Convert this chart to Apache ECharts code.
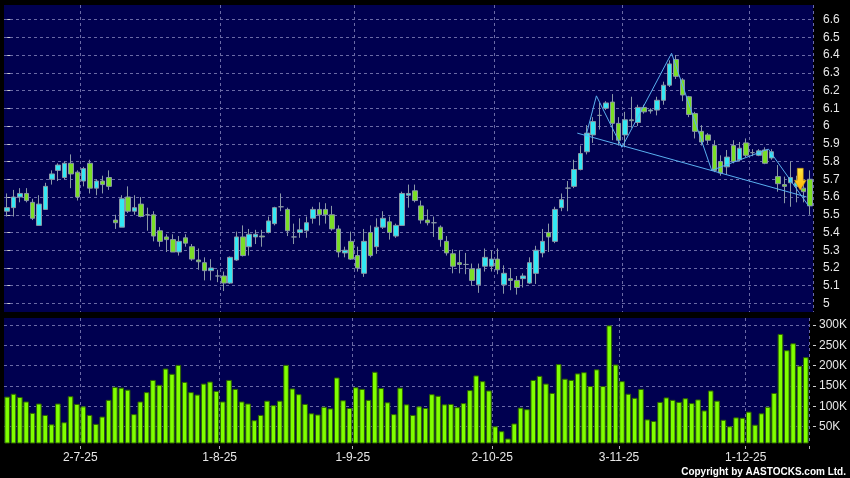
<!DOCTYPE html>
<html>
<head>
<meta charset="utf-8">
<script src="https://cdn.jsdelivr.net/npm/echarts@6/dist/echarts.min.js"></script>
<style>
html,body{margin:0;padding:0;background:#000;}
#chart{width:850px;height:478px;}
</style>
</head>
<body>
<div id="chart"></div>
<script>
const dates = [
'13-6-25','16-6-25','17-6-25','18-6-25','19-6-25','20-6-25','23-6-25','24-6-25','25-6-25','26-6-25','27-6-25','30-6-25',
'2-7-25','3-7-25','4-7-25','7-7-25','8-7-25','9-7-25','10-7-25','11-7-25','14-7-25','15-7-25','16-7-25','17-7-25','18-7-25','21-7-25','22-7-25','23-7-25','24-7-25','25-7-25','28-7-25','29-7-25','30-7-25','31-7-25',
'1-8-25','4-8-25','5-8-25','6-8-25','7-8-25','8-8-25','11-8-25','12-8-25','13-8-25','14-8-25','15-8-25','18-8-25','19-8-25','20-8-25','21-8-25','22-8-25','25-8-25','26-8-25','27-8-25','28-8-25','29-8-25',
'1-9-25','2-9-25','3-9-25','4-9-25','5-9-25','8-9-25','9-9-25','10-9-25','11-9-25','12-9-25','15-9-25','16-9-25','17-9-25','18-9-25','19-9-25','22-9-25','23-9-25','24-9-25','25-9-25','26-9-25','29-9-25','30-9-25',
'2-10-25','3-10-25','6-10-25','8-10-25','9-10-25','10-10-25','13-10-25','14-10-25','15-10-25','16-10-25','17-10-25','20-10-25','21-10-25','22-10-25','23-10-25','24-10-25','27-10-25','28-10-25','30-10-25','31-10-25',
'3-11-25','4-11-25','5-11-25','6-11-25','7-11-25','10-11-25','11-11-25','12-11-25','13-11-25','14-11-25','17-11-25','18-11-25','19-11-25','20-11-25','21-11-25','24-11-25','25-11-25','26-11-25','27-11-25','28-11-25',
'1-12-25','2-12-25','3-12-25','4-12-25','5-12-25','8-12-25','9-12-25','10-12-25','11-12-25','12-12-25'
];
const monthLabels = ['2-7-25','1-8-25','1-9-25','2-10-25','3-11-25','1-12-25'];
const priceTicks = [5,5.1,5.2,5.3,5.4,5.5,5.6,5.7,5.8,5.9,6,6.1,6.2,6.3,6.4,6.5,6.6];
const volumeTicks = [50000,100000,150000,200000,250000,300000];

const open = [5.52,5.54,5.60,5.62,5.57,5.44,5.53,5.70,5.75,5.71,5.79,5.74,5.69,5.79,5.65,5.69,5.71,5.47,5.43,5.60,
5.52,5.56,5.50,5.50,5.41,5.375,5.36,5.29,5.37,5.32,5.245,5.23,5.185,5.155,5.155,5.115,5.245,5.375,5.32,5.375,
5.38,5.40,5.45,5.545,5.53,5.375,5.40,5.41,5.48,5.53,5.53,5.50,5.42,5.285,5.35,5.27,5.17,5.40,5.32,5.43,
5.46,5.38,5.44,5.61,5.635,5.55,5.47,5.455,5.43,5.35,5.28,5.23,5.22,5.195,5.105,5.21,5.21,5.25,5.105,5.14,
5.13,5.14,5.115,5.17,5.285,5.40,5.35,5.54,5.65,5.66,5.755,5.855,5.95,6.06,6.10,6.135,6.015,5.95,6.035,6.02,
6.105,6.085,6.09,6.145,6.23,6.375,6.26,6.165,6.07,5.97,5.95,5.89,5.80,5.77,5.89,5.81,5.905,5.85,5.835,5.865,
5.82,5.715,5.67,5.68,5.66,5.65,5.70];
const close = [5.54,5.60,5.62,5.58,5.48,5.56,5.66,5.73,5.78,5.79,5.73,5.60,5.76,5.65,5.69,5.67,5.66,5.455,5.59,5.52,
5.54,5.49,5.50,5.38,5.35,5.36,5.29,5.35,5.34,5.25,5.235,5.185,5.20,5.155,5.115,5.26,5.375,5.27,5.39,5.39,
5.375,5.465,5.54,5.545,5.41,5.375,5.415,5.455,5.53,5.50,5.50,5.42,5.29,5.30,5.25,5.20,5.35,5.27,5.43,5.48,
5.40,5.44,5.62,5.62,5.58,5.47,5.455,5.455,5.36,5.285,5.21,5.22,5.22,5.13,5.195,5.26,5.25,5.19,5.17,5.13,
5.09,5.155,5.23,5.30,5.35,5.375,5.53,5.585,5.65,5.755,5.845,5.96,6.025,6.06,6.13,6.015,5.92,6.035,6.03,6.105,
6.08,6.09,6.145,6.23,6.35,6.28,6.175,6.065,5.97,5.91,5.92,5.75,5.735,5.825,5.80,5.875,5.835,5.85,5.86,5.79,
5.855,5.675,5.66,5.71,5.68,5.63,5.55];
const low = [5.49,5.49,5.57,5.57,5.47,5.44,5.53,5.67,5.69,5.70,5.65,5.58,5.66,5.62,5.61,5.62,5.64,5.42,5.43,5.51,
5.50,5.485,5.41,5.35,5.32,5.29,5.29,5.27,5.32,5.24,5.19,5.13,5.13,5.12,5.07,5.11,5.24,5.265,5.27,5.335,
5.32,5.395,5.44,5.52,5.38,5.335,5.37,5.37,5.45,5.44,5.45,5.41,5.26,5.26,5.245,5.18,5.15,5.26,5.28,5.42,
5.36,5.37,5.44,5.54,5.57,5.45,5.44,5.375,5.32,5.27,5.17,5.17,5.165,5.10,5.06,5.18,5.18,5.165,5.055,5.075,
5.05,5.09,5.11,5.11,5.26,5.29,5.34,5.52,5.52,5.65,5.75,5.84,5.905,5.98,6.09,5.92,5.89,5.88,5.99,6.00,
6.07,6.07,6.06,6.12,6.22,6.265,6.14,6.05,5.93,5.89,5.90,5.74,5.72,5.725,5.79,5.80,5.825,5.83,5.83,5.785,
5.81,5.63,5.565,5.545,5.57,5.57,5.50];
const high = [5.62,5.64,5.65,5.65,5.59,5.61,5.68,5.75,5.79,5.80,5.84,5.75,5.77,5.81,5.70,5.72,5.75,5.50,5.61,5.66,
5.61,5.60,5.54,5.52,5.43,5.39,5.39,5.38,5.39,5.335,5.31,5.26,5.25,5.19,5.18,5.265,5.405,5.44,5.42,5.415,
5.415,5.49,5.545,5.62,5.54,5.45,5.48,5.49,5.545,5.57,5.565,5.55,5.44,5.32,5.405,5.32,5.42,5.44,5.48,5.52,
5.49,5.45,5.63,5.67,5.67,5.58,5.53,5.49,5.44,5.38,5.305,5.30,5.285,5.225,5.225,5.31,5.30,5.31,5.215,5.20,
5.155,5.17,5.26,5.325,5.42,5.45,5.545,5.62,5.69,5.81,5.89,6.005,6.05,6.13,6.14,6.18,6.05,6.08,6.165,6.12,
6.12,6.10,6.165,6.25,6.37,6.40,6.27,6.17,6.08,6.005,5.96,5.92,5.835,5.865,5.92,5.91,5.93,5.87,5.87,5.88,
5.87,5.78,5.715,5.80,5.72,5.69,5.75];
const volume = [124,131,123,112,84,107,79,56,107,61,125,106,100,79,57,75,116,148,146,141,
81,112,135,165,153,193,180,202,160,135,129,156,161,138,112,165,143,112,107,66,
79,114,103,114,202,144,130,106,83,80,99,95,171,115,96,147,143,116,185,145,
110,81,146,105,79,100,96,130,126,105,106,98,108,140,176,162,139,51,39,21,
58,97,93,165,175,156,133,204,168,165,181,184,150,191,150,299,203,162,131,121,
143,68,64,111,122,116,111,120,108,117,90,139,114,67,51,73,72,87,55,83,
99,133,278,238,255,200,221].map(v => v * 1000);

// pattern lines drawn by the chart (x in trading-day index, y in price)
const neckline = [[89.5,5.96],[125.5,5.60]];
const zigzag = [[90.9,5.95],[92.5,6.17],[96.5,5.88],[104.3,6.41],[110.6,5.75],[119.5,5.87],[125.8,5.55]];
const arrowPoint = [[124.5,5.70]];

const candles = dates.map((d,i) => [open[i], close[i], low[i], high[i]]);
const isMonthStart = (idx) => monthLabels.indexOf(dates[idx]) >= 0;

const gridLine = { show: true, interval: (idx) => isMonthStart(idx), lineStyle: { color: '#6a6aa6', type: [3,3], width: 1 } };
const hSplit = { show: true, lineStyle: { color: '#6a6aa6', type: [3,3], width: 1 } };
const labelColor = '#e8e8e8';
const FONT = 'Liberation Sans, Arial, sans-serif';

const chart = echarts.init(document.getElementById('chart'), null, { renderer: 'canvas' });
chart.setOption({
  animation: false,
  backgroundColor: '#000000',
  grid: [
    { left: 4, right: 37, top: 5, height: 307, show: true, backgroundColor: '#000050', borderWidth: 0 },
    { left: 4, right: 37, top: 318, height: 125, show: true, backgroundColor: '#000050', borderWidth: 0 }
  ],
  xAxis: [
    { type: 'category', gridIndex: 0, data: dates, boundaryGap: true,
      axisLine: { show: false }, axisTick: { show: false }, axisLabel: { show: false },
      splitLine: gridLine },
    { type: 'category', gridIndex: 1, data: dates, boundaryGap: true, offset: 3,
      axisLine: { show: false },
      axisTick: { show: true, interval: (idx) => isMonthStart(idx), length: 3, lineStyle: { color: '#b0b0b0' } },
      axisLabel: { show: true, interval: (idx) => isMonthStart(idx), color: labelColor, fontSize: 12, fontFamily: FONT, margin: 6, padding: [0,6,0,0] },
      splitLine: gridLine },
    { type: 'value', gridIndex: 0, min: -0.5, max: dates.length - 0.5, show: false }
  ],
  yAxis: [
    { type: 'value', gridIndex: 0, position: 'right', min: 4.952, max: 6.682, offset: 4,
      axisLine: { show: false },
      axisTick: { show: true, customValues: priceTicks, length: 3, lineStyle: { color: '#d0d0d0' } },
      axisLabel: { show: true, customValues: priceTicks, color: labelColor, fontSize: 12, fontFamily: FONT, margin: 6,
                   formatter: (v) => String(Math.round(v * 10) / 10) },
      splitLine: hSplit },
    { type: 'value', gridIndex: 1, position: 'right', min: 10000, max: 317200, offset: 4,
      axisLine: { show: false },
      axisTick: { show: true, customValues: volumeTicks, length: 3, lineStyle: { color: '#d0d0d0' } },
      axisLabel: { show: true, customValues: volumeTicks, color: labelColor, fontSize: 12, fontFamily: FONT, margin: 6,
                   formatter: (v) => Math.round(v / 1000) + 'K' },
      splitLine: hSplit }
  ],
  series: [
    { type: 'candlestick', xAxisIndex: 0, yAxisIndex: 0, data: candles, barWidth: 5,
      itemStyle: { color: '#33e8f4', color0: '#7ade26', borderColor: '#8a98a6', borderColor0: '#8a98a6', borderWidth: 1 } },
    { type: 'bar', xAxisIndex: 1, yAxisIndex: 1, data: volume, barWidth: '88%',
      itemStyle: { color: '#80ff00', borderColor: '#2e6400', borderWidth: 1 } },
    { type: 'line', xAxisIndex: 2, yAxisIndex: 0, data: neckline, symbol: 'none',
      lineStyle: { color: '#5ab0f0', width: 1 } },
    { type: 'line', xAxisIndex: 2, yAxisIndex: 0, data: zigzag, symbol: 'none',
      lineStyle: { color: '#5ab0f0', width: 1 } },
    { type: 'scatter', xAxisIndex: 2, yAxisIndex: 0, data: arrowPoint, z: 10,
      symbol: 'path://M3,0 L9,0 L9,12 L12,12 L6,22 L0,12 L3,12 Z', symbolSize: [12, 22],
      itemStyle: { opacity: 1, color: { type: 'linear', x: 0, y: 0, x2: 0, y2: 1,
        colorStops: [{ offset: 0, color: '#ffe840' }, { offset: 1, color: '#ffb000' }] },
        borderColor: '#c08800', borderWidth: 0.5 } }
  ],
  graphic: [
    { type: 'text', right: 4, bottom: 1,
      style: { text: 'Copyright by AASTOCKS.com Ltd.', fill: '#ffffff', font: 'bold 10px ' + FONT } }
  ]
});
</script>
</body>
</html>
